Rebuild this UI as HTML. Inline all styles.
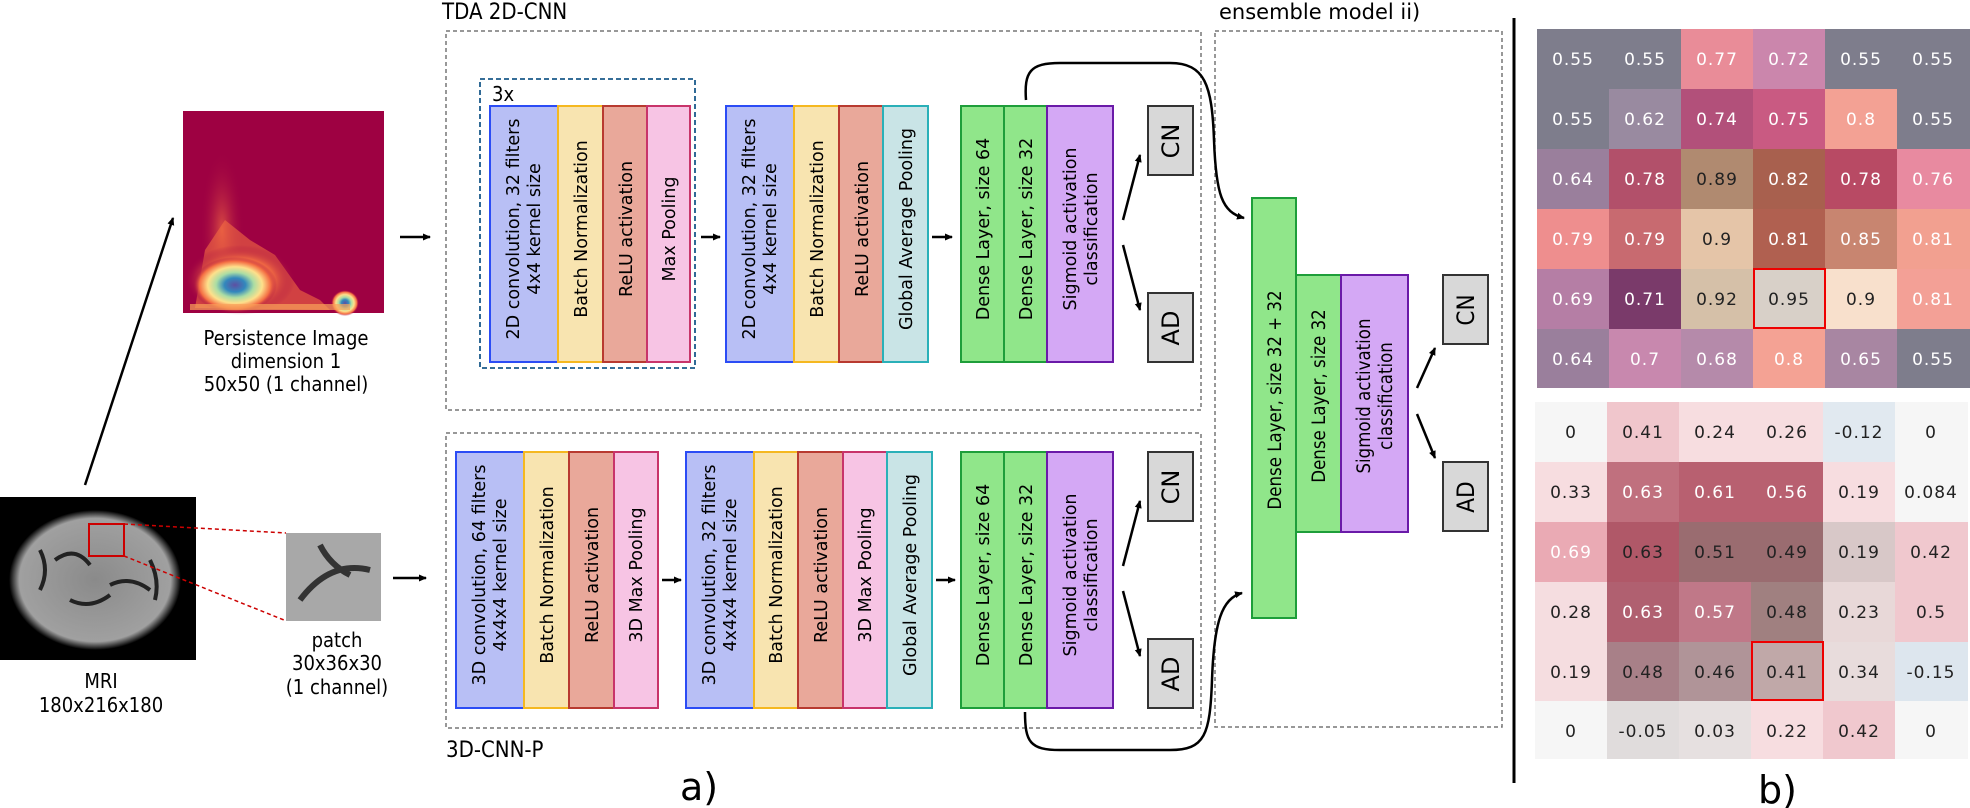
<!DOCTYPE html>
<html><head><meta charset="utf-8"><style>
html,body{margin:0;padding:0;background:#fff;}
svg{display:block;}
text{font-family:"DejaVu Sans","Liberation Sans",sans-serif;}
.c{font-family:"DejaVu Sans Condensed","DejaVu Sans","Liberation Sans",sans-serif;font-stretch:condensed;}
</style></head><body>
<svg width="1970" height="808" viewBox="0 0 1970 808" xmlns="http://www.w3.org/2000/svg">
<defs>
<marker id="ah" markerWidth="8" markerHeight="8" refX="7" refY="4" orient="auto" markerUnits="userSpaceOnUse"><path d="M0,0.5 L8,4 L0,7.5 z" fill="#000"/></marker>
<radialGradient id="pb1" cx="0.5" cy="0.5" r="0.5"><stop offset="0" stop-color="#5e4fa2"/><stop offset="0.25" stop-color="#3288bd"/><stop offset="0.45" stop-color="#abdda4"/><stop offset="0.65" stop-color="#fee08b"/><stop offset="0.85" stop-color="#f46d43"/><stop offset="1" stop-color="#9e0142" stop-opacity="0"/></radialGradient>
<radialGradient id="pb2" cx="0.5" cy="0.5" r="0.5"><stop offset="0" stop-color="#f46d43"/><stop offset="1" stop-color="#9e0142" stop-opacity="0"/></radialGradient>
<radialGradient id="pb3" cx="0.5" cy="0.5" r="0.5"><stop offset="0" stop-color="#fdae61"/><stop offset="0.6" stop-color="#f46d43"/><stop offset="1" stop-color="#9e0142" stop-opacity="0"/></radialGradient>
<radialGradient id="br" cx="0.5" cy="0.5" r="0.5"><stop offset="0" stop-color="#8a8a8a"/><stop offset="0.88" stop-color="#a0a0a0"/><stop offset="1" stop-color="#000"/></radialGradient>
</defs>

<text x="442" y="19" font-size="22" class="c">TDA 2D-CNN</text>
<text x="1219" y="19" font-size="21">ensemble model ii)</text>
<text x="446" y="757" font-size="22" class="c">3D-CNN-P</text>
<text x="680" y="800" font-size="38">a)</text>
<text x="1758" y="803" font-size="38">b)</text>

<g fill="none" stroke="#777" stroke-width="1.5" stroke-dasharray="4,3">
<rect x="446" y="31" width="755" height="379"/>
<rect x="446" y="433" width="755" height="295"/>
<rect x="1215" y="31" width="287" height="696"/>
</g>
<rect x="480" y="79" width="215" height="289" fill="none" stroke="#1a5a8a" stroke-width="1.8" stroke-dasharray="5,3"/>
<text x="492" y="101" font-size="20" class="c">3x</text>

<rect x="183" y="111" width="201" height="202" fill="#9e0142"/>
<ellipse cx="222" cy="230" rx="22" ry="80" fill="url(#pb2)" opacity="0.7"/>
<path d="M195,308 L205,250 L225,220 L250,240 L275,255 L300,290 L320,300 L330,310 Z" fill="#f46d43" opacity="0.6"/>
<ellipse cx="240" cy="280" rx="55" ry="35" fill="url(#pb3)"/>
<ellipse cx="235" cy="285" rx="42" ry="28" fill="url(#pb1)"/>
<ellipse cx="345" cy="303" rx="14" ry="13" fill="url(#pb1)"/>
<rect x="190" y="304" width="160" height="6" fill="#f9a25a" opacity="0.7"/>
<text x="286" y="345" font-size="20" text-anchor="middle" class="c">Persistence Image</text>
<text x="286" y="368" font-size="20" text-anchor="middle" class="c">dimension 1</text>
<text x="286" y="391" font-size="20" text-anchor="middle" class="c">50x50 (1 channel)</text>

<rect x="0" y="497" width="196" height="163" fill="#000"/>
<ellipse cx="95" cy="580" rx="86" ry="70" fill="url(#br)"/>
<path d="M55,560 q20,-15 35,5 M110,585 q20,-10 40,5 M70,600 q20,10 40,-5 M40,590 q10,-20 0,-40 M150,560 q10,20 5,40" stroke="#222" stroke-width="4" fill="none"/>
<rect x="89" y="524" width="35" height="32" fill="none" stroke="#c00" stroke-width="2"/>
<line x1="124" y1="524" x2="286" y2="533" stroke="#c00" stroke-width="1.5" stroke-dasharray="4,3"/>
<line x1="124" y1="556" x2="284" y2="620" stroke="#c00" stroke-width="1.5" stroke-dasharray="4,3"/>
<rect x="286" y="533" width="95" height="88" fill="#a8a8a8"/>
<path d="M300,600 q30,-40 70,-30 M320,545 q10,20 30,30" stroke="#333" stroke-width="6" fill="none"/>
<text x="101" y="688" font-size="20" text-anchor="middle" class="c">MRI</text>
<text x="101" y="712" font-size="20" text-anchor="middle" class="c">180x216x180</text>
<text x="337" y="647" font-size="20" text-anchor="middle" class="c">patch</text>
<text x="337" y="670" font-size="20" text-anchor="middle" class="c">30x36x30</text>
<text x="337" y="694" font-size="20" text-anchor="middle" class="c">(1 channel)</text>

<g stroke="#000" stroke-width="2.5" fill="none" marker-end="url(#ah)">
<line x1="85" y1="485" x2="173" y2="218"/>
<line x1="400" y1="237" x2="430" y2="237"/>
<line x1="393" y1="578" x2="426" y2="578"/>
<line x1="701" y1="237" x2="720" y2="237"/>
<line x1="932" y1="237" x2="952" y2="237"/>
<line x1="662" y1="580" x2="681" y2="580"/>
<line x1="936" y1="580" x2="955" y2="580"/>
<line x1="1123" y1="220" x2="1140" y2="155"/>
<line x1="1123" y1="245" x2="1140" y2="310"/>
<line x1="1123" y1="566" x2="1140" y2="501"/>
<line x1="1123" y1="591" x2="1140" y2="656"/>
<line x1="1417" y1="388" x2="1435" y2="348"/>
<line x1="1417" y1="414" x2="1435" y2="458"/>
<path d="M1026,100 C1024,72 1030,63 1060,63 L1170,63 C1205,63 1212,85 1214,140 C1216,195 1222,212 1244,218"/>
<path d="M1025,712 C1025,742 1030,750 1060,750 L1170,750 C1205,750 1210,735 1212,680 C1214,622 1222,598 1242,593"/>
</g>

<g stroke-width="2">
<rect x="490" y="106" width="68" height="256" fill="#b8bff5" stroke="#2b4cf5"/>
<rect x="558" y="106" width="45" height="256" fill="#f8e4b0" stroke="#f5b820"/>
<rect x="603" y="106" width="44" height="256" fill="#e9a89a" stroke="#b83a30"/>
<rect x="647" y="106" width="43" height="256" fill="#f7c4e4" stroke="#c8346a"/>
<rect x="726" y="106" width="68" height="256" fill="#b8bff5" stroke="#2b4cf5"/>
<rect x="794" y="106" width="45" height="256" fill="#f8e4b0" stroke="#f5b820"/>
<rect x="839" y="106" width="44" height="256" fill="#e9a89a" stroke="#b83a30"/>
<rect x="883" y="106" width="45" height="256" fill="#c9e4e6" stroke="#2ab0b8"/>
<rect x="961" y="106" width="43" height="256" fill="#90e68a" stroke="#1e9e3a"/>
<rect x="1004" y="106" width="43" height="256" fill="#90e68a" stroke="#1e9e3a"/>
<rect x="1047" y="106" width="66" height="256" fill="#d4a8f5" stroke="#6a1aa8"/>
<rect x="1148" y="106" width="45" height="69" fill="#d8d8d8" stroke="#333"/>
<rect x="1148" y="293" width="45" height="69" fill="#d8d8d8" stroke="#333"/>
<rect x="456" y="452" width="68" height="256" fill="#b8bff5" stroke="#2b4cf5"/>
<rect x="524" y="452" width="45" height="256" fill="#f8e4b0" stroke="#f5b820"/>
<rect x="569" y="452" width="45" height="256" fill="#e9a89a" stroke="#b83a30"/>
<rect x="614" y="452" width="44" height="256" fill="#f7c4e4" stroke="#c8346a"/>
<rect x="686" y="452" width="68" height="256" fill="#b8bff5" stroke="#2b4cf5"/>
<rect x="754" y="452" width="44" height="256" fill="#f8e4b0" stroke="#f5b820"/>
<rect x="798" y="452" width="45" height="256" fill="#e9a89a" stroke="#b83a30"/>
<rect x="843" y="452" width="44" height="256" fill="#f7c4e4" stroke="#c8346a"/>
<rect x="887" y="452" width="45" height="256" fill="#c9e4e6" stroke="#2ab0b8"/>
<rect x="961" y="452" width="43" height="256" fill="#90e68a" stroke="#1e9e3a"/>
<rect x="1004" y="452" width="43" height="256" fill="#90e68a" stroke="#1e9e3a"/>
<rect x="1047" y="452" width="66" height="256" fill="#d4a8f5" stroke="#6a1aa8"/>
<rect x="1148" y="452" width="45" height="69" fill="#d8d8d8" stroke="#333"/>
<rect x="1148" y="639" width="45" height="69" fill="#d8d8d8" stroke="#333"/>
<rect x="1252" y="198" width="44" height="420" fill="#90e68a" stroke="#1e9e3a"/>
<rect x="1296" y="275" width="45" height="257" fill="#90e68a" stroke="#1e9e3a"/>
<rect x="1341" y="275" width="67" height="257" fill="#d4a8f5" stroke="#6a1aa8"/>
<rect x="1443" y="275" width="45" height="69" fill="#d8d8d8" stroke="#333"/>
<rect x="1443" y="462" width="45" height="69" fill="#d8d8d8" stroke="#333"/>
</g>

<g font-size="17.5" text-anchor="middle">
<text transform="translate(519,229) rotate(-90)">2D convolution, 32 filters</text>
<text transform="translate(540,229) rotate(-90)">4x4 kernel size</text>
<text transform="translate(587,229) rotate(-90)">Batch Normalization</text>
<text transform="translate(632,229) rotate(-90)">ReLU activation</text>
<text transform="translate(675,229) rotate(-90)">Max Pooling</text>
<text transform="translate(755,229) rotate(-90)">2D convolution, 32 filters</text>
<text transform="translate(776,229) rotate(-90)">4x4 kernel size</text>
<text transform="translate(823,229) rotate(-90)">Batch Normalization</text>
<text transform="translate(868,229) rotate(-90)">ReLU activation</text>
<text transform="translate(912,229) rotate(-90)">Global Average Pooling</text>
<text transform="translate(989,229) rotate(-90)">Dense Layer, size 64</text>
<text transform="translate(1032,229) rotate(-90)">Dense Layer, size 32</text>
<text transform="translate(1076,229) rotate(-90)">Sigmoid activation</text>
<text transform="translate(1097,229) rotate(-90)">classification</text>
<text transform="translate(485,575) rotate(-90)">3D convolution, 64 filters</text>
<text transform="translate(506,575) rotate(-90)">4x4x4 kernel size</text>
<text transform="translate(553,575) rotate(-90)">Batch Normalization</text>
<text transform="translate(598,575) rotate(-90)">ReLU activation</text>
<text transform="translate(642,575) rotate(-90)">3D Max Pooling</text>
<text transform="translate(715,575) rotate(-90)">3D convolution, 32 filters</text>
<text transform="translate(736,575) rotate(-90)">4x4x4 kernel size</text>
<text transform="translate(782,575) rotate(-90)">Batch Normalization</text>
<text transform="translate(827,575) rotate(-90)">ReLU activation</text>
<text transform="translate(871,575) rotate(-90)">3D Max Pooling</text>
<text transform="translate(916,575) rotate(-90)">Global Average Pooling</text>
<text transform="translate(989,575) rotate(-90)">Dense Layer, size 64</text>
<text transform="translate(1032,575) rotate(-90)">Dense Layer, size 32</text>
<text transform="translate(1076,575) rotate(-90)">Sigmoid activation</text>
<text transform="translate(1097,575) rotate(-90)">classification</text>
</g>
<g font-size="18.5" text-anchor="middle" class="c">
<text transform="translate(1281,400) rotate(-90)">Dense Layer, size 32 + 32</text>
<text transform="translate(1325,396) rotate(-90)">Dense Layer, size 32</text>
<text transform="translate(1370,396) rotate(-90)">Sigmoid activation</text>
<text transform="translate(1392,396) rotate(-90)">classification</text>
</g>
<g font-size="24" text-anchor="middle">
<text transform="translate(1179,141) rotate(-90)">CN</text>
<text transform="translate(1179,328) rotate(-90)">AD</text>
<text transform="translate(1179,487) rotate(-90)">CN</text>
<text transform="translate(1179,674) rotate(-90)">AD</text>
</g>
<g font-size="24" text-anchor="middle" class="c">
<text transform="translate(1474,310) rotate(-90)">CN</text>
<text transform="translate(1474,497) rotate(-90)">AD</text>
</g>

<line x1="1514" y1="18" x2="1514" y2="783" stroke="#000" stroke-width="3"/>

<g>
<rect x="1537" y="29" width="72" height="60" fill="#7e7d8c"/><rect x="1609" y="29" width="72" height="60" fill="#7e7d8c"/><rect x="1681" y="29" width="72" height="60" fill="#e98c98"/><rect x="1753" y="29" width="72" height="60" fill="#cb86ac"/><rect x="1825" y="29" width="72" height="60" fill="#7e7d8c"/><rect x="1897" y="29" width="73" height="60" fill="#7e7d8c"/>
<rect x="1537" y="89" width="72" height="60" fill="#7e7d8c"/><rect x="1609" y="89" width="72" height="60" fill="#998aa0"/><rect x="1681" y="89" width="72" height="60" fill="#b2507a"/><rect x="1753" y="89" width="72" height="60" fill="#c95a82"/><rect x="1825" y="89" width="72" height="60" fill="#f3a194"/><rect x="1897" y="89" width="73" height="60" fill="#7e7d8c"/>
<rect x="1537" y="149" width="72" height="60" fill="#9a7f9c"/><rect x="1609" y="149" width="72" height="60" fill="#b2506a"/><rect x="1681" y="149" width="72" height="60" fill="#b08a70"/><rect x="1753" y="149" width="72" height="60" fill="#a8604e"/><rect x="1825" y="149" width="72" height="60" fill="#b84a64"/><rect x="1897" y="149" width="73" height="60" fill="#e88aa0"/>
<rect x="1537" y="209" width="72" height="60" fill="#ee8e8e"/><rect x="1609" y="209" width="72" height="60" fill="#c86a70"/><rect x="1681" y="209" width="72" height="60" fill="#e5c5a8"/><rect x="1753" y="209" width="72" height="60" fill="#b06050"/><rect x="1825" y="209" width="72" height="60" fill="#c88570"/><rect x="1897" y="209" width="73" height="60" fill="#f2a090"/>
<rect x="1537" y="269" width="72" height="60" fill="#b57ea5"/><rect x="1609" y="269" width="72" height="60" fill="#7a3a6a"/><rect x="1681" y="269" width="72" height="60" fill="#d5c0a8"/><rect x="1753" y="269" width="72" height="60" fill="#d8d0c8"/><rect x="1825" y="269" width="72" height="60" fill="#f8e0cc"/><rect x="1897" y="269" width="73" height="60" fill="#f3a096"/>
<rect x="1537" y="329" width="72" height="59" fill="#9a7f9c"/><rect x="1609" y="329" width="72" height="59" fill="#c888ae"/><rect x="1681" y="329" width="72" height="59" fill="#b58aaa"/><rect x="1753" y="329" width="72" height="59" fill="#f4a294"/><rect x="1825" y="329" width="72" height="59" fill="#a886a2"/><rect x="1897" y="329" width="73" height="59" fill="#7e7d8c"/>
<rect x="1754" y="269" width="71" height="59" fill="none" stroke="#e00" stroke-width="2"/>
</g>
<g font-size="17" text-anchor="middle" fill="#fff" letter-spacing="1">
<text x="1573" y="65">0.55</text><text x="1645" y="65">0.55</text><text x="1717" y="65">0.77</text><text x="1789" y="65">0.72</text><text x="1861" y="65">0.55</text><text x="1933" y="65">0.55</text>
<text x="1573" y="125">0.55</text><text x="1645" y="125">0.62</text><text x="1717" y="125">0.74</text><text x="1789" y="125">0.75</text><text x="1861" y="125">0.8</text><text x="1933" y="125">0.55</text>
<text x="1573" y="185">0.64</text><text x="1645" y="185">0.78</text><text x="1717" y="185" fill="#222">0.89</text><text x="1789" y="185">0.82</text><text x="1861" y="185">0.78</text><text x="1933" y="185">0.76</text>
<text x="1573" y="245">0.79</text><text x="1645" y="245">0.79</text><text x="1717" y="245" fill="#222">0.9</text><text x="1789" y="245">0.81</text><text x="1861" y="245">0.85</text><text x="1933" y="245">0.81</text>
<text x="1573" y="305">0.69</text><text x="1645" y="305">0.71</text><text x="1717" y="305" fill="#222">0.92</text><text x="1789" y="305" fill="#222">0.95</text><text x="1861" y="305" fill="#222">0.9</text><text x="1933" y="305">0.81</text>
<text x="1573" y="365">0.64</text><text x="1645" y="365">0.7</text><text x="1717" y="365">0.68</text><text x="1789" y="365">0.8</text><text x="1861" y="365">0.65</text><text x="1933" y="365">0.55</text>
</g>

<g>
<rect x="1535" y="402" width="72" height="60" fill="#f6f6f6"/><rect x="1607" y="402" width="72" height="60" fill="#f0c6cc"/><rect x="1679" y="402" width="72" height="60" fill="#f7dde0"/><rect x="1751" y="402" width="72" height="60" fill="#f7dde0"/><rect x="1823" y="402" width="72" height="60" fill="#e1e9f0"/><rect x="1895" y="402" width="73" height="60" fill="#f6f6f6"/>
<rect x="1535" y="462" width="72" height="60" fill="#f7dde0"/><rect x="1607" y="462" width="72" height="60" fill="#c0707e"/><rect x="1679" y="462" width="72" height="60" fill="#b86070"/><rect x="1751" y="462" width="72" height="60" fill="#b86070"/><rect x="1823" y="462" width="72" height="60" fill="#f7dde0"/><rect x="1895" y="462" width="73" height="60" fill="#f6f6f6"/>
<rect x="1535" y="522" width="72" height="60" fill="#eaaab4"/><rect x="1607" y="522" width="72" height="60" fill="#b05868"/><rect x="1679" y="522" width="72" height="60" fill="#9a6c70"/><rect x="1751" y="522" width="72" height="60" fill="#9a6c70"/><rect x="1823" y="522" width="72" height="60" fill="#d8c8c8"/><rect x="1895" y="522" width="73" height="60" fill="#f0c8ce"/>
<rect x="1535" y="582" width="72" height="60" fill="#f5dde0"/><rect x="1607" y="582" width="72" height="60" fill="#b06070"/><rect x="1679" y="582" width="72" height="60" fill="#c07888"/><rect x="1751" y="582" width="72" height="60" fill="#a08080"/><rect x="1823" y="582" width="72" height="60" fill="#e8d8d8"/><rect x="1895" y="582" width="73" height="60" fill="#f0c8ce"/>
<rect x="1535" y="642" width="72" height="59" fill="#f5dde0"/><rect x="1607" y="642" width="72" height="59" fill="#a88088"/><rect x="1679" y="642" width="72" height="59" fill="#b09498"/><rect x="1751" y="642" width="72" height="59" fill="#c0a8a8"/><rect x="1823" y="642" width="72" height="59" fill="#e8dcdc"/><rect x="1895" y="642" width="73" height="59" fill="#dde6ee"/>
<rect x="1535" y="701" width="72" height="58" fill="#f6f6f6"/><rect x="1607" y="701" width="72" height="58" fill="#e0dcdc"/><rect x="1679" y="701" width="72" height="58" fill="#e6e0e0"/><rect x="1751" y="701" width="72" height="58" fill="#f7dde0"/><rect x="1823" y="701" width="72" height="58" fill="#f0c8ce"/><rect x="1895" y="701" width="73" height="58" fill="#f6f6f6"/>
<rect x="1752" y="642" width="71" height="58" fill="none" stroke="#e00" stroke-width="2"/>
</g>
<g font-size="17" text-anchor="middle" fill="#222" letter-spacing="1">
<text x="1571" y="438">0</text><text x="1643" y="438">0.41</text><text x="1715" y="438">0.24</text><text x="1787" y="438">0.26</text><text x="1859" y="438">-0.12</text><text x="1931" y="438">0</text>
<text x="1571" y="498">0.33</text><text x="1643" y="498" fill="#fff">0.63</text><text x="1715" y="498" fill="#fff">0.61</text><text x="1787" y="498" fill="#fff">0.56</text><text x="1859" y="498">0.19</text><text x="1931" y="498">0.084</text>
<text x="1571" y="558" fill="#fff">0.69</text><text x="1643" y="558">0.63</text><text x="1715" y="558">0.51</text><text x="1787" y="558">0.49</text><text x="1859" y="558">0.19</text><text x="1931" y="558">0.42</text>
<text x="1571" y="618">0.28</text><text x="1643" y="618" fill="#fff">0.63</text><text x="1715" y="618" fill="#fff">0.57</text><text x="1787" y="618">0.48</text><text x="1859" y="618">0.23</text><text x="1931" y="618">0.5</text>
<text x="1571" y="678">0.19</text><text x="1643" y="678">0.48</text><text x="1715" y="678">0.46</text><text x="1787" y="678">0.41</text><text x="1859" y="678">0.34</text><text x="1931" y="678">-0.15</text>
<text x="1571" y="737">0</text><text x="1643" y="737">-0.05</text><text x="1715" y="737">0.03</text><text x="1787" y="737">0.22</text><text x="1859" y="737">0.42</text><text x="1931" y="737">0</text>
</g>
</svg>
</body></html>
